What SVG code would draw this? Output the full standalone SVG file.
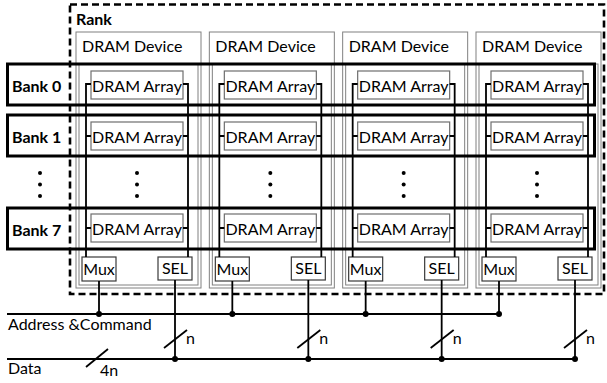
<svg xmlns="http://www.w3.org/2000/svg" xmlns:xlink="http://www.w3.org/1999/xlink" width="607" height="383" viewBox="0 0 607 383">
  <style>
    text { font-family: Lato, "Liberation Sans", Arial, sans-serif; font-size: 16px; fill: #000; }
    .bold { font-weight: bold; }
    .mid { text-anchor: middle; }
    .dev { fill: none; stroke: #808080; stroke-width: 1; }
    .arr { fill: #fff; stroke: #6e6e6e; stroke-width: 1.2; }
    .ctl { fill: #fff; stroke: #3a3a3a; stroke-width: 1.2; }
    .bank { fill: none; stroke: #000; stroke-width: 3; }
    .rank { fill: none; stroke: #000; stroke-width: 2.6; stroke-dasharray: 7 4; }
    .wire { fill: none; stroke: #000; stroke-width: 1.8; }
    .dot { fill: #000; }
  </style>
  <defs>
    <!-- one DRAM device column, drawn at the first column's position -->
    <g id="device">
      <rect class="dev" x="76" y="32" width="125" height="256"/>
      <rect class="dev" x="79" y="64" width="119" height="221"/>
      <text x="82" y="52">DRAM Device</text>
      <rect class="arr" x="91" y="71" width="92" height="28"/>
      <text class="mid" x="137" y="92">DRAM Array</text>
      <rect class="arr" x="91" y="122" width="92" height="28"/>
      <text class="mid" x="137" y="143">DRAM Array</text>
      <rect class="arr" x="91" y="214" width="92" height="28"/>
      <text class="mid" x="137" y="235">DRAM Array</text>
      <circle class="dot" cx="137" cy="173" r="2"/>
      <circle class="dot" cx="137" cy="184.5" r="2"/>
      <circle class="dot" cx="137" cy="196" r="2"/>
      <rect class="ctl" x="82" y="257" width="34" height="24"/>
      <text class="mid" x="99" y="275">Mux</text>
      <rect class="ctl" x="158" y="257" width="34" height="23"/>
      <text class="mid" x="175" y="274">SEL</text>
    </g>
    <!-- per-device wiring: array taps, Mux/SEL drops and the n-bit slash -->
    <g id="device-wires">
      <path class="wire" d="M91,84 H86 V257 M86,136 H91 M86,228 H91"/>
      <path class="wire" d="M183,84 H188 V257 M183,136 H188 M183,228 H188"/>
      <path class="wire" d="M99,281 V314 M175,280 V359"/>
      <path class="wire" d="M164,348 L187,330"/>
      <circle class="dot" cx="99" cy="314" r="3"/>
      <circle class="dot" cx="175" cy="359" r="3"/>
      <text x="186" y="344">n</text>
    </g>
  </defs>

  <!-- rank boundary -->
  <g id="rank">
    <rect class="rank" x="70" y="4.5" width="534" height="289.5"/>
    <text class="bold" x="76" y="25">Rank</text>
  </g>

  <g id="device-0"><use xlink:href="#device"/></g>
  <g id="device-1"><use xlink:href="#device" transform="translate(133.33,0)"/></g>
  <g id="device-2"><use xlink:href="#device" transform="translate(266.67,0)"/></g>
  <g id="device-3"><use xlink:href="#device" transform="translate(400,0)"/></g>

  <!-- banks span all devices -->
  <g id="bank-0">
    <rect class="bank" x="7.5" y="64" width="587" height="41"/>
    <text class="bold" x="12" y="92">Bank 0</text>
  </g>
  <g id="bank-1">
    <rect class="bank" x="7.5" y="115" width="587" height="41"/>
    <text class="bold" x="12" y="143">Bank 1</text>
  </g>
  <g id="bank-ellipsis">
    <circle class="dot" cx="40" cy="173" r="2"/>
    <circle class="dot" cx="40" cy="184.5" r="2"/>
    <circle class="dot" cx="40" cy="196" r="2"/>
  </g>
  <g id="bank-7">
    <rect class="bank" x="7.5" y="208" width="587" height="41"/>
    <text class="bold" x="12" y="236">Bank 7</text>
  </g>

  <g id="connectors">
    <use xlink:href="#device-wires"/>
    <use xlink:href="#device-wires" transform="translate(133.33,0)"/>
    <use xlink:href="#device-wires" transform="translate(266.67,0)"/>
    <use xlink:href="#device-wires" transform="translate(400,0)"/>
    <path class="wire" d="M7,314 H499"/>
    <path class="wire" d="M7,359 H576"/>
    <path class="wire" d="M86,367 L108,349"/>
    <text x="8" y="330">Address &amp;Command</text>
    <text x="8" y="374">Data</text>
    <text x="100" y="376">4n</text>
  </g>
</svg>
